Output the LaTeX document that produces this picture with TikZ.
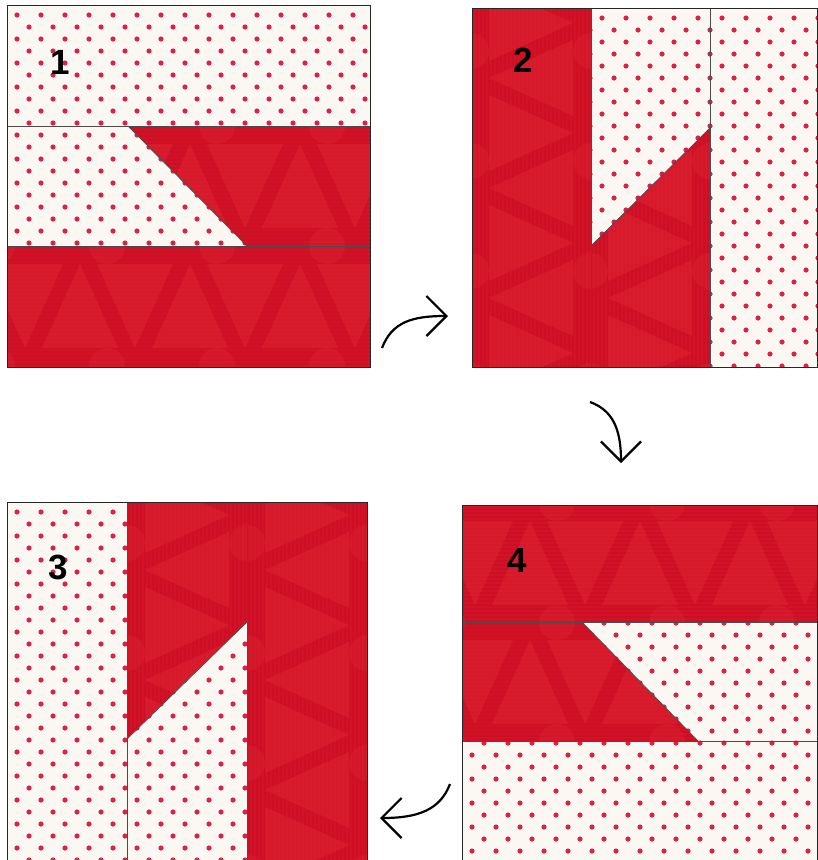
\documentclass[tikz,border=0pt]{standalone}
\usepackage{fontspec}
\setsansfont{Liberation Sans}
\usetikzlibrary{arrows.meta}

\definecolor{cream}{HTML}{FBF8F3}
\definecolor{dotred}{HTML}{D8234A}
\definecolor{fabred}{HTML}{CD0E24}
\definecolor{fablite}{HTML}{E8303A}

\newcommand{\polkapatch}[3]{%
  \begin{scope}
    \clip #1;
    \fill[cream] #1;
    \foreach \j in {0,...,30}{
      \pgfmathsetmacro{\off}{mod(\j,2)*12}
      \foreach \i in {0,...,15}
        \fill[dotred] (#2+10+\off+24*\i, #3+10+12*\j) circle (2.6pt);
    }
  \end{scope}}

\newcommand{\redpatch}[4]{%
  \begin{scope}
    \clip #1;
    \fill[fabred] #1;
    \begin{scope}[shift={(#2,#3)}, rotate=#4]
      \foreach \r in {-2,...,2}
        \foreach \c in {-4,...,4}{
          \pgfmathsetmacro{\flip}{ifthenelse(mod(\c+\r+10,2)==0,1,-1)}
          \fill[fablite, opacity=.35] (\c*55-38, \r*120+42*\flip) -- (\c*55+38, \r*120+42*\flip) -- (\c*55, \r*120-42*\flip) -- cycle;
        }
      \foreach \r in {-2,...,2}
        \foreach \c in {-2,...,2}
          \fill[fablite, opacity=.25] (\c*110+27, \r*120+60) circle (18pt);
      \foreach \s in {-46,...,46}
        \draw[fablite, opacity=.15, line width=1.2pt] (-220, \s*4) -- (220, \s*4);
    \end{scope}
  \end{scope}}

\begin{document}
\begin{tikzpicture}[
    x=1pt, y=-1pt,
    seam/.style={draw=black!70, line width=0.8pt},
    blockline/.style={draw=black!85, line width=1pt},
    num/.style={font=\sffamily\bfseries\fontsize{35}{35}\selectfont, inner sep=0pt},
    turn/.style={line width=2.2pt, -{Straight Barb[length=20pt, width=40pt]}}
]
    \useasboundingbox (0,0) rectangle (818,860);

    \polkapatch{(7,5) rectangle (370,126)}{7}{5}
    \polkapatch{(7,126) -- (128,126) -- (247,246) -- (7,246) -- cycle}{7}{5}
    \redpatch{(128,126) -- (370,126) -- (370,246) -- (247,246) -- cycle}{190}{186}{0}
    \redpatch{(7,246) rectangle (370,367)}{190}{306}{0}
    \draw[seam] (7,126) -- (370,126);
    \draw[seam] (7,246) -- (370,246);
    \draw[seam] (128,126) -- (247,246);
    \draw[blockline] (7,5) rectangle (370,367);

    \redpatch{(472,8) rectangle (591,367)}{531}{188}{90}
    \polkapatch{(591,8) -- (710,8) -- (710,128) -- (591,246) -- cycle}{472}{8}
    \redpatch{(591,246) -- (710,128) -- (710,367) -- (591,367) -- cycle}{650}{188}{90}
    \polkapatch{(710,8) rectangle (818,367)}{472}{8}
    \draw[seam] (591,8) -- (591,367);
    \draw[seam] (710,8) -- (710,367);
    \draw[seam] (591,246) -- (710,128);
    \draw[blockline] (472,8) rectangle (817.5,367);

    \polkapatch{(7,502) rectangle (127,860)}{7}{502}
    \redpatch{(127,502) -- (247,502) -- (247,622) -- (127,739) -- cycle}{187}{680}{90}
    \polkapatch{(127,739) -- (247,622) -- (247,860) -- (127,860) -- cycle}{7}{502}
    \redpatch{(247,502) rectangle (367,860)}{307}{680}{90}
    \draw[seam] (127,502) -- (127,860);
    \draw[seam] (247,502) -- (247,860);
    \draw[seam] (127,739) -- (247,622);
    \draw[blockline] (7,502) rectangle (367,860);

    \redpatch{(462,505) rectangle (818,622)}{640}{563}{0}
    \redpatch{(462,622) -- (582,622) -- (698,741) -- (462,741) -- cycle}{640}{682}{0}
    \polkapatch{(582,622) -- (818,622) -- (818,741) -- (698,741) -- cycle}{462}{505}
    \polkapatch{(462,741) rectangle (818,860)}{462}{505}
    \draw[seam] (462,622) -- (818,622);
    \draw[seam] (462,741) -- (818,741);
    \draw[seam] (582,622) -- (698,741);
    \draw[blockline] (462,505) rectangle (817.5,860);

    \node[num] (n1) at (60,62) {1};
    \node[num] (n2) at (523,60) {2};
    \node[num] (n3) at (58,567) {3};
    \node[num] (n4) at (517,560) {4};

    \coordinate (a1) at (382,348);
    \coordinate (b1) at (448,316);
    \coordinate (a2) at (590,402);
    \coordinate (b2) at (621,463);
    \coordinate (a3) at (450,784);
    \coordinate (b3) at (380,818);
    \draw[turn] (a1) .. controls (392,322) and (412,316) .. (b1);
    \draw[turn] (a2) .. controls (612,410) and (621,428) .. (b2);
    \draw[turn] (a3) .. controls (440,810) and (418,818) .. (b3);
\end{tikzpicture}
\end{document}
